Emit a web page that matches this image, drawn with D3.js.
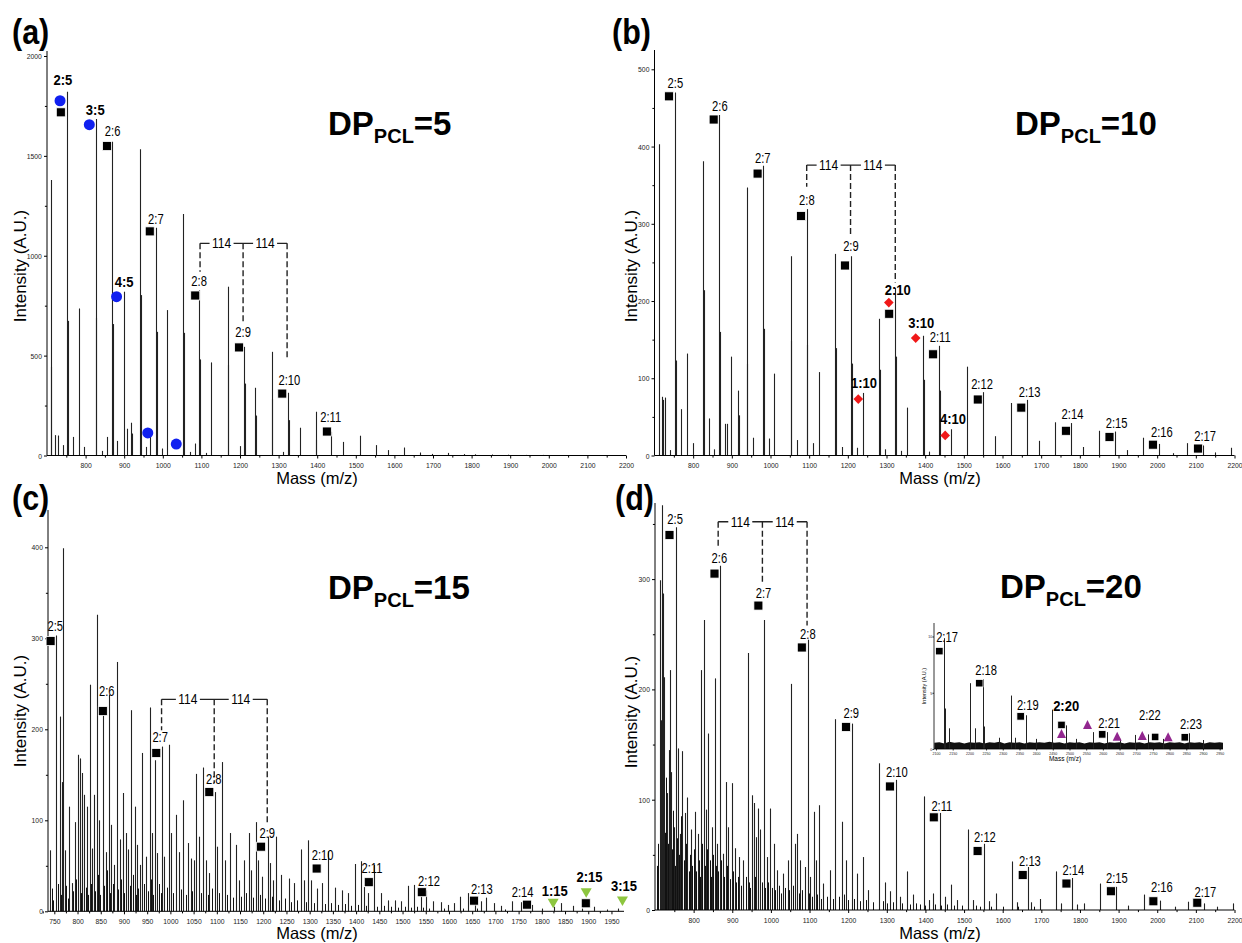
<!DOCTYPE html>
<html><head><meta charset="utf-8">
<script src="https://cdn.jsdelivr.net/npm/d3@7"></script>
<style>body{margin:0;background:#fff} svg{display:block;background:#fff}</style>
</head><body>
<svg id="c" width="1242" height="943"></svg>
<script>
// ---------------- DATA ----------------
// Panel (a) DP_PCL=5 : [m/z, intensity]
const peaksA = [[710,1379],[711.5,444],[722,102],[728.7,100],[741,52],[753,1821],[755,674],[768.6,93],[784,736],[796,43],
[826,1685],[828,691],[843,23],[854.7,93],[868,1571],[870,658],[882,73],[900,820],[906,134],[917,164],[919,110],
[941,1533],[943,803],[957,43],[968,110],[982,1140],[984,619],[997,35],[1011,728],[1053,1209],[1055,614],[1071,18],[1084,60],
[1095,828],[1097,481],[1112,13],[1126,466],[1168,845],[1170,452],[1199,47],[1210,544],[1212,360],[1240,339],[1242,200],
[1282,519],[1284,285],[1311.5,18],[1324,314],[1326,177],[1355,139],[1396,219],[1398,80],[1437,119],[1468,68],[1511,99],
[1552,52],[1583,27],[1624,40],[1667,15],[1698,8],[1739,13],[1780,7],[1810,6],[1853,5],[1895,4],[1940,3],[1985,3]];
const squaresA = [[735.8,1718],[855.7,1549],[966.2,1122],[1084,801],[1197.7,541],[1309.5,310],[1425,120]];
const circlesA = [[733.8,1776],[809.6,1656],[880.2,795],[961.1,113],[1034.9,57]];
const labelsA = [["2:5",741,1855,1],["3:5",825,1705,1],["2:6",870,1600,0],["4:5",900,843,1],["2:7",982,1159,0],
["2:8",1094,849,0],["2:9",1208,593,0],["2:10",1328,353,0],["2:11",1435,168,0]];
const bracketA = {mz:[1096.5,1208,1322], low:[920,664,478], top:1062};

// Panel (b) DP_PCL=10
const peaksB = [[710.4,403],[718.7,76],[720.8,72],[726,75],[740.6,7],[753,470],[755,123],[768.7,60],[783,132],[799,16],
[825,381],[827,214],[840.6,48],[853,8],[866.6,441],[868.6,160],[882,41],[888.5,41],[897,128],[916.6,84],[918.6,52],
[938.5,347],[940.5,119],[955,23],[980,375],[982,164],[996.8,22],[1010,106],[1052,258],[1054,149],[1067.6,20],
[1093.6,319],[1095.6,143],[1109,16],[1125,108],[1166.5,261],[1168.5,139],[1186,11],[1208,258],[1210,119],[1224,10],[1238,81],
[1280,177],[1282,111],[1297,8],[1322.7,217],[1324.7,128],[1338,6],[1353,62],[1394.6,155],[1396.6,98],[1410,5],[1436,142],[1438,84],
[1466,34],[1508,115],[1550,82],[1581,25],[1622.6,68],[1664,72],[1694,19],[1736,43],[1778,42],[1808,11],[1850,32],
[1891,31],[1922,7],[1963,23],[2005,15],[2040,3],[2078,16],[2119,13],[2149,4],[2192,10]];
const squaresB = [[737.5,465],[853,435],[966.6,365],[1079,310],[1192.5,246],[1307,183.5],[1420.6,131],[1536,72.5],
[1648.6,62],[1764,32],[1876.7,24],[1989,14],[2105.8,9]];
const diamondsB = [[1227,73],[1306,198],[1375.5,152],[1451.8,26]];
const labelsB = [["2:5",754,476,0],["2:6",869,446,0],["2:7",980,379,0],["2:8",1094,324,0],["2:9",1208,265,0],
["2:10",1329,208,1],["3:10",1390,165,1],["2:11",1439,147,0],["1:10",1242,87,1],["4:10",1472,41,1],["2:12",1547,86,0],
["2:13",1670,76,0],["2:14",1781,47,0],["2:15",1895,36,0],["2:16",2012,24,0],["2:17",2124,19,0]];
const bracketB = {mz:[1093.6,1207,1322.7], low:[348,283,224], top:376};

// Panel (c) DP_PCL=15
const peaksC = [[740.3,67],[753.5,303],[761.4,214],[766.7,142],[769.3,399],[773.7,67],[782.5,115],[787.8,31],[794,98],
[800,172],[804.5,168],[809.7,152],[815,128],[820.3,115],[826.4,249],[831.7,69],[835.2,128],[841.4,326],[845.8,100],
[854.5,216],[860.7,65],[866.8,238],[872,95],[878.3,51],[884.4,274],[890.6,79],[897.6,130],[904.6,86],[908,68],
[915.2,221],[923,115],[928.3,73],[934.5,51],[939.8,174],[948.5,60],[955.6,224],[960,86],[966,166],[971.4,64],
[982,181],[987.2,60],[996.9,183],[1001,86],[1012.7,106],[1018,65],[1027.6,122],[1037.3,75],[1043.4,58],[1050.4,56],
[1055.7,151],[1061.9,82],[1070.6,158],[1076.8,56],[1083,42],[1095.3,131],[1099.6,71],[1112,164],[1118,56],[1127.8,86],
[1141.8,73],[1147,34],[1158.5,56],[1169,86],[1174.3,45],[1184,98],[1189.3,56],[1196.3,38],[1209.5,82],[1214.7,53],
[1220,34],[1227,82],[1239.3,40],[1256,36],[1265.7,31],[1281.5,68],[1286.8,34],[1297.3,78],[1302.6,34],[1316.6,25],
[1327.2,31],[1340.4,66],[1353.5,26],[1369.3,23],[1381.6,20],[1397.4,52],[1411.5,55],[1416.8,27],[1426.4,20],[1438.7,51],
[1453.7,20],[1467.7,12],[1483.5,12],[1496.7,11],[1510.8,28],[1524.8,29],[1538.9,23],[1551.2,23],[1565.2,11],[1582,10],
[1598.6,7],[1610.9,9],[1624,16],[1640.8,20],[1656.6,16],[1668,11],[1680.3,15],[1696,9],[1712,6],[1736.6,11],[1755.9,10],
[1779.6,7],[1800,3],[1825.3,5],[1842,9],[1867.5,6],[1886,3],[1911.4,5],[1940,2],[1965,3]];
const grassC = [[745,25],[748,12],[757,30],[764,18],[775,28],[779,14],[790,22],[797,35],[807,20],[813,40],[818,26],[823,18],
[829,30],[838,22],[844,40],[849,18],[857,28],[863,45],[870,20],[876,30],[888,24],[893,35],[901,20],[912,28],[919,40],
[926,18],[931,25],[944,30],[951,22],[958,35],[963,18],[975,30],[979,20],[992,26],[1006,20],[1022,24],[1033,18],[1047,22],
[1066,20],[1080,18],[1089,25],[1104,20],[1122,18],[1135,15],[1152,16],[1163,20],[1178,15],[1193,18],[1203,14],[1218,16],
[1233,12],[1246,14],[1260,10],[1272,12],[1292,10],[1309,9],[1334,8],[1346,9],[1362,7],[1376,8],[1390,6],[1405,7],
[1421,6],[1446,5],[1460,6],[1476,5],[1490,4],[1505,5],[1518,4],[1532,5],[1545,4],[1558,3],[1590,3],[1630,3],[1660,3],[1720,2]];
const squaresC = [[742,297],[854.5,220],[969.6,174],[1083.8,131],[1195.4,71],[1315,47],[1427.3,32],[1541.5,21],
[1654,11.7],[1768,7.3],[1894.7,8.8]];
const trianglesC = [[1824.4,8.8],[1895.6,20.5],[1973.7,11.4]];
const labelsC = [["2:5",752,308,0],["2:6",863,237,0],["2:7",978,186,0],["2:8",1093.5,140,0],["2:9",1208.6,80.5,0],
["2:10",1328,56,0],["2:11",1434,42,0],["2:12",1557,28,0],["2:13",1671,19,0],["2:14",1758.5,16,0],["1:15",1828,17,1],
["2:15",1902.6,32,1],["3:15",1977,22,1]];
const bracketC = {mz:[981,1094.4,1208.6], low:[199,141,97], top:233};

// Panel (d) DP_PCL=20
const peaksD = [[712.5,299],[714.6,172],[718.7,367],[721.9,287],[724,211],[731.2,106],[736.4,145],[739.6,217.5],[741.6,125],
[748,75],[754.1,347],[760.4,146.5],[765.6,69],[770.8,144],[777,88],[783.3,102],[792.7,73],[803,89],[810.4,69],[818.7,217.5],
[826,263],[832.2,91],[837.5,160],[847.9,75],[855.2,210],[861.4,60],[867.6,312],[875,51],[883.3,116],[889.5,75],
[898.9,115],[906.2,56],[918.7,48],[929,45],[939.5,233],[951,104],[957.2,97],[962.4,66],[967.6,92],[972.8,73],
[982.2,263],[989.5,48],[997.8,92],[1007.2,60],[1015.5,36],[1031,33],[1043.6,45],[1053,205],[1062.4,60],[1068.6,69],
[1074.9,45],[1089.4,39],[1095.7,245],[1102,30],[1111.3,89],[1116.5,45],[1124.8,95],[1135.3,24],[1154,36],[1166.5,173],
[1183.2,80],[1193.6,45],[1209.2,169],[1222.7,33],[1238.4,48],[1252,18],[1281,133],[1295.6,25],[1307,17],[1323.7,118],
[1335,12],[1353,35],[1368.5,14],[1395.6,103],[1408,9],[1418.5,15],[1437.2,88],[1449.7,12],[1467.4,23],[1481,9],
[1509,73],[1522.6,9],[1550.7,60],[1564,8],[1582,15],[1623.6,44],[1637,7],[1665.3,39],[1673.6,7],[1696.5,10],[1737,35],
[1751.7,6],[1778.8,29],[1793,5],[1810,6],[1851.7,24],[1893.3,21],[1924.6,4],[1966.2,14],[2008,8.5],[2045,3],[2080.8,7.5],
[2121.4,6],[2155,3],[2195.3,6]];
const grassD = [[705,40],[708,60],[715,90],[717,50],[726,70],[729,120],[733,60],[743,55],[746,90],[751,40],[757,65],[763,50],
[767,85],[774,45],[780,60],[787,35],[790,50],[797,40],[800,55],[806,35],[813,45],[816,30],[822,60],[829,40],[835,55],
[842,45],[845,30],[851,50],[858,40],[864,35],[870,45],[878,30],[886,40],[893,28],[903,35],[910,25],[915,30],[922,22],
[935,30],[943,25],[947,20],[960,30],[977,25],[985,20],[993,25],[1003,20],[1011,18],[1020,22],[1026,15],[1037,20],
[1048,18],[1058,22],[1072,15],[1080,18],[1098,15],[1106,12],[1120,14],[1130,10],[1145,12],[1160,10],[1175,12],[1190,14],
[1200,9],[1215,10],[1230,8],[1245,9],[1265,7],[1290,8],[1300,6],[1315,7],[1340,6],[1360,5],[1375,6],[1385,5],[1400,4],
[1425,5],[1440,4],[1455,5],[1475,4],[1495,4],[1530,4],[1540,3],[1570,3],[1600,3],[1640,3],[1680,3]];
const squaresD = [[737.5,340],[854,305],[967.6,276],[1080,238],[1194.6,166],[1308,112],[1421.6,84],[1535,53.5],
[1651.8,31.7],[1765,24],[1880,17],[1990,7.9],[2103.7,6.6]];
const labelsD = [["2:5",752,350,0],["2:6",866.6,315,0],["2:7",981,283,0],["2:8",1095.7,246,0],["2:9",1208,174,0],
["2:10",1326,120.5,0],["2:11",1442.5,90,0],["2:12",1554,62,0],["2:13",1670.5,40,0],["2:14",1783,32,0],["2:15",1895.5,24.5,0],
["2:16",2012,16,0],["2:17",2124.5,12,0]];
const bracketD = {mz:[863.5,978,1093.6], low:[329,297,258], top:352};

// Inset of (d)
const peaksI = [[2124,9.85],[2126,3.6],[2139,1.84],[2202,5.85],[2217,1.84],[2241.7,6.2],[2244,2.0],[2290,1.0],[2323.6,4.75],
[2338,1.0],[2368.5,3.0],[2400,0.9],[2448,3.5],[2491,2.1],[2520,0.9],[2570,1.5],[2613,1.5],[2650,0.9],[2695,1.25],
[2736,1.3],[2780,0.9],[2858,1.4],[2900,0.8]];
const noiseI = [[2095,0.55],[2110,0.6],[2125,0.5],[2140,0.65],[2155,0.55],[2170,0.6],[2185,0.5],[2200,0.6],[2215,0.55],
[2230,0.6],[2245,0.5],[2260,0.6],[2275,0.55],[2290,0.65],[2305,0.5],[2320,0.6],[2335,0.55],[2350,0.6],[2365,0.5],
[2380,0.6],[2395,0.55],[2410,0.6],[2425,0.55],[2440,0.65],[2455,0.55],[2470,0.6],[2485,0.5],[2500,0.6],[2515,0.55],
[2530,0.6],[2545,0.5],[2560,0.6],[2575,0.55],[2590,0.6],[2605,0.5],[2620,0.6],[2635,0.55],[2650,0.6],[2665,0.5],
[2680,0.6],[2695,0.55],[2710,0.6],[2725,0.5],[2740,0.6],[2755,0.55],[2770,0.6],[2785,0.5],[2800,0.6],[2815,0.55],
[2830,0.6],[2845,0.5],[2860,0.6],[2875,0.55],[2890,0.6],[2905,0.5],[2920,0.6],[2935,0.55],[2950,0.6],[2960,0.55]];
const squaresI = [[2110,8.7],[2229.6,5.85],[2353.6,2.9],[2476,2.14],[2598,1.3],[2756.6,1.07],[2845.5,1.04]];
const trianglesI = [[2476,1.34],[2554,2.14],[2643,1.1],[2718,1.16],[2795.5,1.04]];
const labelsI = [["2:17",2133,9.55,0],["2:18",2250,6.6,0],["2:19",2375,3.5,0],["2:20",2490,3.4,1],["2:21",2619,1.9,0],
["2:22",2741,2.6,0],["2:23",2864,1.78,0]];

// Ticks
const xTicks100 = [800,900,1000,1100,1200,1300,1400,1500,1600,1700,1800,1900,2000,2100,2200];
const xTicksC = [750,800,850,900,950,1000,1050,1100,1150,1200,1250,1300,1350,1400,1450,1500,1550,1600,1650,1700,1750,1800,1850,1900,1950];
const xTicksI = [2100,2150,2200,2250,2300,2350,2400,2450,2500,2550,2600,2650,2700,2750,2800,2850,2900,2950];
const yTicksA = [0,500,1000,1500,2000];
const yTicksB = [0,100,200,300,400,500];
const yTicksC = [0,100,200,300,400];
const yTicksD = [0,100,200,300];
const yTicksI = [0,5,10];
const titles = [["(a)","5"],["(b)","10"],["(c)","15"],["(d)","20"]];

// ---------------- DRAWING ----------------
const SANS = "'Liberation Sans',Arial,sans-serif";
const svg = d3.select('#c');

function drawAxes(g, x, y, o){
  const xa = g.append('g').attr('transform',`translate(0,${y(0)})`)
    .call(d3.axisBottom(x).tickValues(o.xTicks).tickSize(o.tick).tickSizeOuter(0).tickPadding(o.pad).tickFormat(d3.format('d')));
  xa.select('.domain').attr('d',`M${x.range()[0]},0H${x.range()[1]}`);
  xa.selectAll('text').attr('font-size',o.fs).attr('font-family',SANS).attr('fill','#222')
    .attr('transform',`scale(${o.sx},1)`);
  if(o.xMinor){
    g.append('g').attr('transform',`translate(0,${y(0)})`)
      .call(d3.axisBottom(x).tickValues(o.xMinor).tickSize(o.tick*0.7).tickSizeOuter(0).tickFormat(''))
      .select('.domain').remove();
  }
  const ya = g.append('g').attr('transform',`translate(${x.range()[0]},0)`)
    .call(d3.axisLeft(y).tickValues(o.yTicks).tickSize(o.tick).tickSizeOuter(0).tickPadding(o.pad-1).tickFormat(d3.format('d')));
  ya.select('.domain').attr('d',`M0,${y.range()[0]}V${y.range()[1]}`);
  ya.selectAll('text').attr('font-size',o.fs).attr('font-family',SANS).attr('fill','#222')
    .attr('transform',`scale(${o.sx},1)`);
  if(o.yMinor){
    g.append('g').attr('transform',`translate(${x.range()[0]},0)`)
      .call(d3.axisLeft(y).tickValues(o.yMinor).tickSize(o.tick*0.7).tickSizeOuter(0).tickFormat(''))
      .select('.domain').remove();
  }
  g.selectAll('.domain, .tick line').attr('stroke','#000').attr('stroke-width',o.sw);
}

function drawPeaks(g, x, y, data, sw, col){
  g.append('g').selectAll('line').data(data).join('line')
    .attr('x1',d=>Math.round(x(d[0]))+0.5).attr('x2',d=>Math.round(x(d[0]))+0.5)
    .attr('y1',y(0)).attr('y2',d=>y(d[1]))
    .attr('stroke',col||'#222').attr('stroke-width',sw);
}
function drawSquares(g,x,y,data,s){
  g.append('g').selectAll('rect').data(data).join('rect')
    .attr('x',d=>x(d[0])-s/2).attr('y',d=>y(d[1])-s/2).attr('width',s).attr('height',s)
    .attr('fill','#000').attr('stroke','#fff').attr('stroke-width',0.8);
}
function drawLabels(g,x,y,data,fs){
  g.append('g').selectAll('text').data(data).join('text')
    .attr('transform',d=>`translate(${x(d[1])},${y(d[2])}) scale(${d[3]?0.93:0.8},1)`)
    .attr('text-anchor','middle')
    .attr('font-family',SANS)
    .attr('font-weight',d=>d[3]?'bold':'normal')
    .attr('font-size',fs)
    .attr('fill','#000')
    .text(d=>d[0]);
}
function drawBracket(g,x,y,b){
  const yt = y(b.top);
  g.append('g').selectAll('line').data(b.mz).join('line')
    .attr('x1',d=>x(d)).attr('x2',d=>x(d)).attr('y1',yt).attr('y2',(d,i)=>y(b.low[i]))
    .attr('stroke','#222').attr('stroke-width',1.4).attr('stroke-dasharray','6,3');
  g.append('line').attr('x1',x(b.mz[0])).attr('x2',x(b.mz[2])).attr('y1',yt).attr('y2',yt)
    .attr('stroke','#222').attr('stroke-width',1.3);
  [0,1].forEach(i=>{
    const cx = (x(b.mz[i])+x(b.mz[i+1]))/2;
    g.append('rect').attr('x',cx-12).attr('y',yt-8).attr('width',24).attr('height',16).attr('fill','#fff');
    g.append('text').attr('transform',`translate(${cx},${yt+5}) scale(0.8,1)`).attr('text-anchor','middle')
      .attr('font-family',SANS).attr('font-size',15).text('114');
  });
}
function drawTitle(x0,yb,n){
  const t = svg.append('text').attr('x',x0).attr('y',yb).attr('font-family',SANS).attr('font-weight','bold').attr('fill','#000');
  t.append('tspan').attr('font-size',33).text('DP');
  t.append('tspan').attr('font-size',20).attr('dy',8).text('PCL');
  t.append('tspan').attr('font-size',33).attr('dy',-8).text('='+n);
}
function axisTitles(xc,yb,yx,yc){
  svg.append('text').attr('x',xc).attr('y',yb).attr('text-anchor','middle').attr('font-family',SANS).attr('font-size',16.5).text('Mass (m/z)');
  svg.append('text').attr('transform',`translate(${yx},${yc}) rotate(-90)`).attr('text-anchor','middle')
    .attr('font-family',SANS).attr('font-size',17).text('Intensity (A.U.)');
}
function minorBetween(arr, step){ return arr.map(v=>v-step); }

// ---- layout (pixels) ----
const L = {
  a:{x:[47,626], y:[455.5,51], xd:[700,2200], yd:[0,2025]},
  b:{x:[654.5,1234.5], y:[455.5,50], xd:[700,2200], yd:[0,525]},
  c:{x:[48,624], y:[911.3,510], xd:[736.4,1977], yd:[0,441]},
  d:{x:[655,1234.5], y:[910,503], xd:[700,2200], yd:[0,369]},
  i:{x:[934,1223], y:[749,623], xd:[2094,2960], yd:[0,11.2]}
};
function scales(k){
  return [d3.scaleLinear().domain(L[k].xd).range(L[k].x), d3.scaleLinear().domain(L[k].yd).range(L[k].y)];
}
const axOpt = {tick:3, pad:4, fs:8, sw:1, sx:0.85};

// Panel a
{
  const [x,y] = scales('a'); const g = svg.append('g');
  drawPeaks(g,x,y,peaksA,1.1);
  drawAxes(g,x,y,{...axOpt, xTicks:xTicks100, xMinor:minorBetween(xTicks100,50), yTicks:yTicksA, yMinor:[250,750,1250,1750]});
  drawBracket(g,x,y,bracketA);
  drawSquares(g,x,y,squaresA,9);
  g.append('g').selectAll('circle').data(circlesA).join('circle')
    .attr('cx',d=>x(d[0])).attr('cy',d=>y(d[1])).attr('r',5.5).attr('fill','#1020f0');
  drawLabels(g,x,y,labelsA,14);
}
// Panel b
{
  const [x,y] = scales('b'); const g = svg.append('g');
  drawPeaks(g,x,y,peaksB,1.1);
  drawAxes(g,x,y,{...axOpt, xTicks:xTicks100, xMinor:minorBetween(xTicks100,50), yTicks:yTicksB, yMinor:[50,150,250,350,450]});
  drawBracket(g,x,y,bracketB);
  drawSquares(g,x,y,squaresB,9);
  g.append('g').selectAll('rect').data(diamondsB).join('rect')
    .attr('x',-3.4).attr('y',-3.4).attr('width',6.8).attr('height',6.8)
    .attr('transform',d=>`translate(${x(d[0])},${y(d[1])}) rotate(45)`).attr('fill','#f01818');
  drawLabels(g,x,y,labelsB,14);
}
// Panel c
{
  const [x,y] = scales('c'); const g = svg.append('g');
  drawPeaks(g,x,y,grassC,1,'#111');
  drawPeaks(g,x,y,peaksC,1.1);
  drawAxes(g,x,y,{...axOpt, xTicks:xTicksC, xMinor:minorBetween(xTicksC,25), yTicks:yTicksC, yMinor:[50,150,250,350]});
  drawBracket(g,x,y,bracketC);
  drawSquares(g,x,y,squaresC,9);
  g.append('g').selectAll('path').data(trianglesC).join('path')
    .attr('d','M-5.5,-4.5L5.5,-4.5L0,5Z').attr('transform',d=>`translate(${x(d[0])},${y(d[1])})`).attr('fill','#8dc63f');
  drawLabels(g,x,y,labelsC,14);
}
// Panel d
{
  const [x,y] = scales('d'); const g = svg.append('g');
  drawPeaks(g,x,y,grassD,1,'#111');
  drawPeaks(g,x,y,peaksD,1.1);
  drawAxes(g,x,y,{...axOpt, xTicks:xTicks100, xMinor:minorBetween(xTicks100,50), yTicks:yTicksD, yMinor:[50,150,250,350]});
  drawBracket(g,x,y,bracketD);
  drawSquares(g,x,y,squaresD,9);
  drawLabels(g,x,y,labelsD,14);
}
// Inset
{
  const [x,y] = scales('i'); const g = svg.append('g');
  g.append('path').datum(noiseI).attr('fill','#111')
    .attr('d',d3.area().x(d=>x(d[0])).y0(y(0)).y1(d=>y(d[1])));
  drawPeaks(g,x,y,peaksI,1);
  drawAxes(g,x,y,{tick:1.5, pad:1.5, fs:4, sw:0.8, sx:0.9, xTicks:xTicksI, yTicks:yTicksI});
  drawSquares(g,x,y,squaresI,7.5);
  g.append('g').selectAll('path').data(trianglesI).join('path')
    .attr('d','M-4.5,4L4.5,4L0,-5Z').attr('transform',d=>`translate(${x(d[0])},${y(d[1])})`).attr('fill','#92278f');
  drawLabels(g,x,y,labelsI,14);
  svg.append('text').attr('x',1065).attr('y',761).attr('text-anchor','middle').attr('font-family',SANS).attr('font-size',6.5).text('Mass (m/z)');
  svg.append('text').attr('transform','translate(926,686) rotate(-90)').attr('text-anchor','middle')
    .attr('font-family',SANS).attr('font-size',5.5).text('Intensity (A.U.)');
}

// Titles & panel letters
const letterPos = [[12,44],[612,44],[12,510],[615,510]];
const titlePos = [[328,135],[1015,135],[328,599],[1000,598]];
titles.forEach((t,i)=>{
  svg.append('text').attr('transform',`translate(${letterPos[i][0]},${letterPos[i][1]}) scale(0.87,1)`).attr('font-family',SANS)
    .attr('font-weight','bold').attr('font-size',35).text(t[0]);
  drawTitle(titlePos[i][0],titlePos[i][1],t[1]);
});
axisTitles(317,484,26,266);
axisTitles(940,484,637,266);
axisTitles(317,939,26,711);
axisTitles(940,939,637,712);
</script></body></html>
